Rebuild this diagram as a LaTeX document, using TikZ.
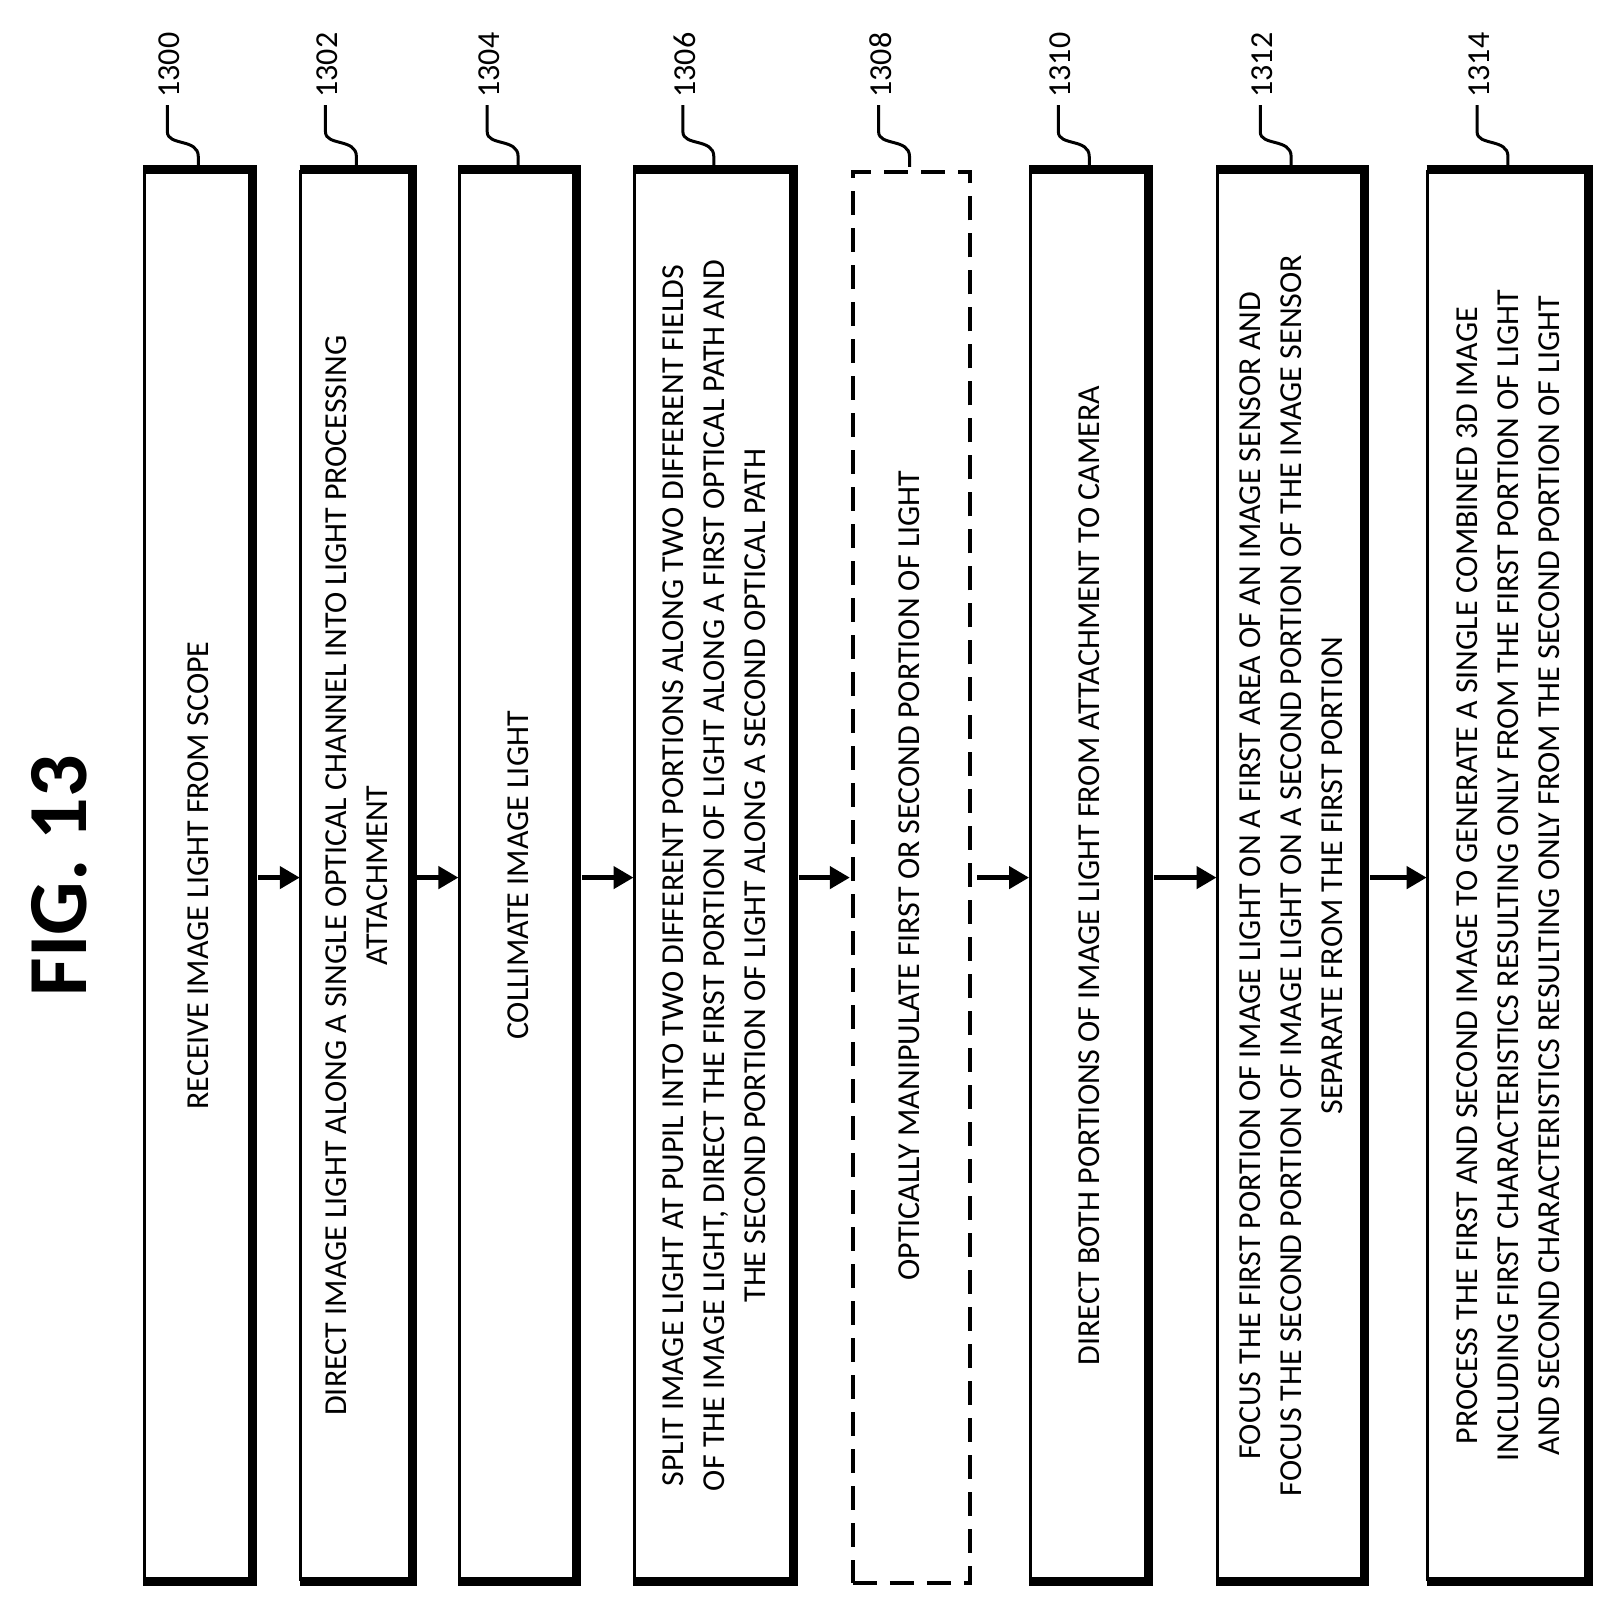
\documentclass[tikz,border=0pt]{standalone}
\usepackage{fontspec}
\setmainfont{Carlito}
\usetikzlibrary{arrows.meta}
\tikzset{
  boxtext/.style={rotate=90,align=center,font=\fontsize{32}{41}\selectfont,inner sep=0pt},
  numlabel/.style={rotate=90,anchor=west,font=\fontsize{32}{34}\selectfont,inner sep=0pt},
  conn/.style={line width=4.5pt,-{Triangle[length=20pt,width=22pt]}},
  leader/.style={line width=3pt},
}
\newcommand{\myleader}[1]{%
  \draw[leader] (#1) -- ++(0,10) .. controls +(0,18) and +(0,-14) .. ++(-30,24) -- ++(0,26);
}
\newcommand{\mybox}[5]{%
  \fill[white] (#2,-165) rectangle (#3,-1535);
  \node[minimum width={(#3-#2)*1.03pt},minimum height={1370*1.03pt},inner sep=0pt,anchor=north west] (#1) at (#2,-165) {};
  \draw[line width=3pt] (#2,-165) -- (#2,-1535);
  \draw[line width=9pt] (#2-1,-165) -- (#3,-165) -- (#3,-1535) -- (#2-1,-1535);
  \node[boxtext] (#1t) at ({(#2+#3)/2},-850) {#4};
  \coordinate (#1top) at ({(#2+#3)/2},-162);
  \node[numlabel] (#1n) at ({(#2+#3)/2-28},-95) {#5};
  \myleader{#1top}
}
\begin{document}
\begin{tikzpicture}[x=1.03pt,y=1.03pt]
\useasboundingbox (0,0) rectangle (1565,-1554);
\node[rotate=90,font=\bfseries\fontsize{84}{90}\selectfont,inner sep=0pt] (fig) at (58,-850) {FIG. 13};
\mybox{b0}{140}{245}{RECEIVE IMAGE LIGHT FROM SCOPE}{1300}
\mybox{b1}{292}{400}{DIRECT IMAGE LIGHT ALONG A SINGLE OPTICAL CHANNEL INTO LIGHT PROCESSING\\ATTACHMENT}{1302}
\mybox{b2}{446}{560}{COLLIMATE IMAGE LIGHT}{1304}
\mybox{b3}{616}{770}{SPLIT IMAGE LIGHT AT PUPIL INTO TWO DIFFERENT PORTIONS ALONG TWO DIFFERENT FIELDS\\OF THE IMAGE LIGHT, DIRECT THE FIRST PORTION OF LIGHT ALONG A FIRST OPTICAL PATH AND\\THE SECOND PORTION OF LIGHT ALONG A SECOND OPTICAL PATH}{1306}
\fill[white] (826,-165) rectangle (940,-1535);
\node[draw,line width=4pt,dash pattern=on 24pt off 13pt,minimum width={114*1.03pt},minimum height={1370*1.03pt},inner sep=0pt,anchor=north west] (b4) at (826,-165) {};
\node[boxtext] (b4t) at (883,-850) {OPTICALLY MANIPULATE FIRST OR SECOND PORTION OF LIGHT};
\coordinate (b4top) at (883,-162);
\node[numlabel] (b4n) at (855,-95) {1308};
\myleader{b4top}
\mybox{b5}{1000}{1115}{DIRECT BOTH PORTIONS OF IMAGE LIGHT FROM ATTACHMENT TO CAMERA}{1310}
\mybox{b6}{1182}{1325}{FOCUS THE FIRST PORTION OF IMAGE LIGHT ON A FIRST AREA OF AN IMAGE SENSOR AND\\FOCUS THE SECOND PORTION OF IMAGE LIGHT ON A SECOND PORTION OF THE IMAGE SENSOR\\SEPARATE FROM THE FIRST PORTION}{1312}
\mybox{b7}{1386}{1542}{PROCESS THE FIRST AND SECOND IMAGE TO GENERATE A SINGLE COMBINED 3D IMAGE\\INCLUDING FIRST CHARACTERISTICS RESULTING ONLY FROM THE FIRST PORTION OF LIGHT\\AND SECOND CHARACTERISTICS RESULTING ONLY FROM THE SECOND PORTION OF LIGHT}{1314}
\foreach \a/\b in {b0/b1,b1/b2,b2/b3,b3/b4,b4/b5,b5/b6,b6/b7}{
  \draw[conn] ([xshift=5pt]\a.east |- 0,-852) -- ([xshift=-1pt]\b.west |- 0,-852);
}
\end{tikzpicture}
\end{document}
